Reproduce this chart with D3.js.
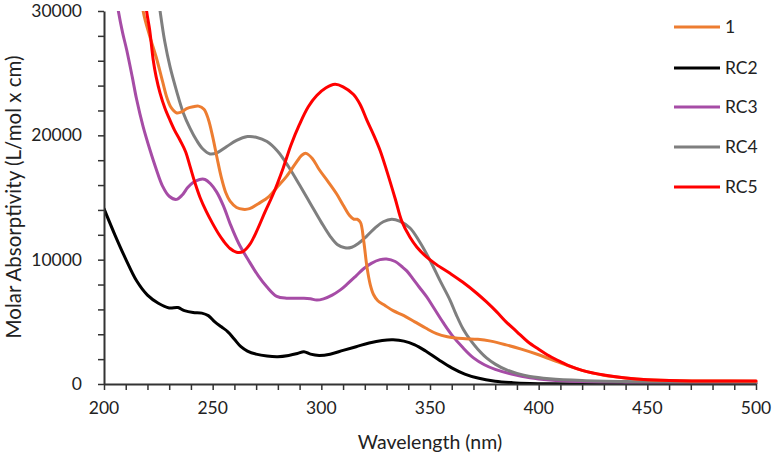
<!DOCTYPE html>
<html>
<head>
<meta charset="utf-8">
<script src="https://cdn.jsdelivr.net/npm/d3@7"></script>
<style>
  html, body { margin: 0; padding: 0; background: #fff; }
  svg { display: block; }
  text { font-family: Lato, "Open Sans", sans-serif; fill: #222; }
</style>
</head>
<body>
<svg id="chart" width="774" height="459"></svg>
<script>
// ---- data ----
const seriesNames = ["1", "RC2", "RC3", "RC4", "RC5"];
const seriesColors = ["#ED7D31", "#000000", "#A64CA6", "#7F7F7F", "#FF0000"];

const wl1 = [214, 218, 221, 224, 227, 229, 231, 233.5, 236, 238, 241, 243.5, 246, 248, 250, 252, 254, 256, 258, 261, 264, 267, 271, 276, 280, 284, 288, 291, 293, 296, 299, 303, 307, 310, 313, 315, 316.5, 318, 319.5, 321, 322.5, 324, 326, 329, 333, 338, 343, 348, 353, 358, 365, 372, 378, 385, 392, 400, 410, 420, 430, 440, 450, 465, 480, 500];
const val1 = [36000, 30000, 28000, 26300, 24300, 23000, 22200, 21800, 21900, 22150, 22300, 22350, 22100, 21300, 19900, 18200, 16600, 15400, 14700, 14200, 14050, 14100, 14500, 15100, 15900, 16700, 17700, 18400, 18550, 18100, 17250, 16300, 15300, 14400, 13550, 13250, 13250, 13000, 11500, 9400, 8000, 7200, 6700, 6350, 5900, 5500, 5000, 4500, 4050, 3800, 3650, 3600, 3450, 3150, 2800, 2350, 1700, 1100, 700, 480, 350, 270, 240, 230];

const wl2 = [200, 205, 210, 215, 220, 225, 230, 234, 237, 241, 245, 248, 251, 254, 257, 260, 263, 266, 270, 275, 280, 285, 289, 292, 295, 299, 304, 310, 316, 322, 328, 333, 338, 343, 348, 354, 360, 366, 372, 380, 388, 396, 405, 420, 450, 500];
const val2 = [14100, 12000, 10050, 8300, 7150, 6500, 6120, 6150, 5900, 5750, 5700, 5500, 5000, 4600, 4200, 3600, 3000, 2650, 2400, 2250, 2200, 2300, 2450, 2600, 2400, 2300, 2400, 2700, 3000, 3300, 3500, 3550, 3450, 3150, 2650, 1950, 1300, 800, 480, 230, 110, 50, 20, 0, 0, 0];

const wl3 = [203, 206.6, 208.5, 210.4, 213, 215, 218, 221.2, 224, 227, 230, 233.4, 236, 238.5, 241, 244, 246.5, 249, 251.8, 255, 258, 262, 267, 271, 275, 279.5, 284, 288, 292, 295, 297.9, 301, 305, 308.6, 312, 316, 319.3, 323, 327, 330, 334, 337, 339.3, 342, 345, 348.5, 352, 356, 360, 365, 370, 375, 380, 388, 396, 405, 420, 440, 460, 500];
const val3 = [34000, 30000, 28300, 26900, 24700, 22900, 20700, 18800, 17300, 15900, 15100, 14850, 15200, 15800, 16200, 16450, 16450, 16100, 15450, 14300, 12900, 11300, 9800, 8700, 7800, 7050, 6900, 6900, 6900, 6850, 6750, 6850, 7150, 7550, 8050, 8700, 9250, 9700, 10000, 10050, 9850, 9450, 9100, 8500, 7800, 7000, 6050, 4950, 3950, 2950, 2100, 1550, 1180, 780, 500, 330, 200, 130, 100, 100];

const wl4 = [222, 225.8, 228, 230.4, 233.5, 236.5, 239.5, 242.6, 245.5, 248.8, 252, 256.5, 261, 266, 270, 275, 280, 285, 290, 295, 300, 304, 307.5, 310.9, 314, 317, 320.9, 325, 328.5, 332.4, 336, 340.8, 345, 350, 354.5, 359.2, 362, 365.3, 368.7, 372, 376, 380, 385, 390, 396, 405, 420, 440, 460, 500];
const val4 = [35000, 30000, 27500, 25500, 23500, 21800, 20600, 19600, 18900, 18500, 18600, 19100, 19600, 19900, 19850, 19500, 18700, 17450, 16000, 14500, 13000, 11900, 11200, 10950, 11000, 11300, 11900, 12600, 13050, 13250, 13100, 12550, 11500, 9950, 8350, 6750, 5600, 4400, 3500, 2800, 2100, 1600, 1150, 850, 600, 420, 280, 200, 170, 150];

const wl5 = [216, 219.6, 221, 222.7, 224, 225.8, 228, 230.4, 232.5, 235, 237.5, 239.6, 242, 244.2, 247, 250, 253, 255, 258, 261, 264, 267, 270, 274, 277.9, 282.5, 286, 290, 294, 297.9, 302, 306.3, 310, 314.7, 317.8, 321, 323.9, 327, 330, 334, 337, 340.8, 344, 348.5, 353, 359.2, 365, 371.5, 376, 380.7, 385, 390, 395, 400, 405, 410, 415, 420, 430, 440, 450, 465, 480, 500];
const val5 = [36000, 30000, 28500, 26000, 24700, 23400, 22200, 21200, 20400, 19600, 18700, 17500, 16100, 15000, 13900, 12900, 12000, 11500, 10900, 10600, 10650, 11200, 12200, 13800, 15300, 17400, 19200, 20900, 22300, 23200, 23800, 24100, 23900, 23300, 22500, 21200, 20100, 18800, 17200, 14900, 13100, 11800, 11000, 10200, 9600, 8900, 8200, 7300, 6600, 5800, 5000, 4200, 3400, 2800, 2250, 1800, 1400, 1100, 720, 480, 340, 260, 240, 240];

const xTicks = [200, 250, 300, 350, 400, 450, 500];
const yTicks = [0, 10000, 20000, 30000];

const xLabel = "Wavelength (nm)";
const yLabel = "Molar Absorptivity (L/mol x cm)";

// ---- layout ----
const svg = d3.select("#chart");
const mLeft = 104, mRight = 756, mTop = 11, mBottom = 384;

const x = d3.scaleLinear().domain([200, 500]).range([mLeft, mRight]);
const y = d3.scaleLinear().domain([0, 30000]).range([mBottom, mTop]);

const defs = svg.append("defs");
defs.append("clipPath").attr("id", "plotclip")
  .append("rect").attr("x", mLeft).attr("y", mTop).attr("width", mRight - mLeft + 4).attr("height", mBottom - mTop);

const allSeries = [
  {wl: wl1, v: val1}, {wl: wl2, v: val2}, {wl: wl3, v: val3}, {wl: wl4, v: val4}, {wl: wl5, v: val5}
];

const line = d3.line().x(d => x(d[0])).y(d => y(d[1])).curve(d3.curveCatmullRom.alpha(0.5));

const g = svg.append("g").attr("clip-path", "url(#plotclip)");
const order = [1, 2, 3, 0, 4];
order.forEach(i => {
  const s = allSeries[i];
  const pts = s.wl.map((w, k) => [w, s.v[k]]);
  g.append("path")
    .attr("d", line(pts))
    .attr("fill", "none")
    .attr("stroke", seriesColors[i])
    .attr("stroke-width", 3)
    .attr("stroke-linejoin", "round")
    .attr("stroke-linecap", "round");
});

// ---- axes ----
const axisColor = "#333333";
const xAxis = d3.axisBottom(x).tickValues(d3.range(200, 501, 10)).tickSize(6).tickSizeOuter(0).tickFormat("");
const xg = svg.append("g").attr("transform", `translate(0,${mBottom})`).call(xAxis);
const yAxis = d3.axisLeft(y).tickValues(d3.range(0, 30001, 2000)).tickSize(6).tickSizeOuter(0).tickFormat("");
const yg = svg.append("g").attr("transform", `translate(${mLeft},0)`).call(yAxis);
[xg, yg].forEach(a => {
  a.select(".domain").attr("stroke", axisColor).attr("stroke-width", 2);
  a.selectAll(".tick line").attr("stroke", axisColor).attr("stroke-width", 1.5);
});

svg.append("g").selectAll("text").data(xTicks).join("text")
  .attr("x", d => x(d)).attr("y", 414)
  .attr("text-anchor", "middle").attr("font-size", 17.5)
  .text(d => d);

svg.append("g").selectAll("text").data(yTicks).join("text")
  .attr("x", 82).attr("y", d => y(d) + 6)
  .attr("text-anchor", "end").attr("font-size", 17.5)
  .text(d => d);

svg.append("text").attr("x", 430).attr("y", 449)
  .attr("text-anchor", "middle").attr("font-size", 19.5).text(xLabel);

svg.append("text").attr("transform", "translate(21,197) rotate(-90)")
  .attr("text-anchor", "middle").attr("font-size", 20.5).text(yLabel);

// ---- legend ----
const legendY = [27, 68, 107, 147, 187];
const lg = svg.append("g");
seriesNames.forEach((n, i) => {
  lg.append("line").attr("x1", 674).attr("x2", 720)
    .attr("y1", legendY[i]).attr("y2", legendY[i])
    .attr("stroke", seriesColors[i]).attr("stroke-width", 3);
  lg.append("text").attr("x", 725).attr("y", legendY[i] + 6)
    .attr("font-size", 17.5).text(n);
});
</script>
</body>
</html>
